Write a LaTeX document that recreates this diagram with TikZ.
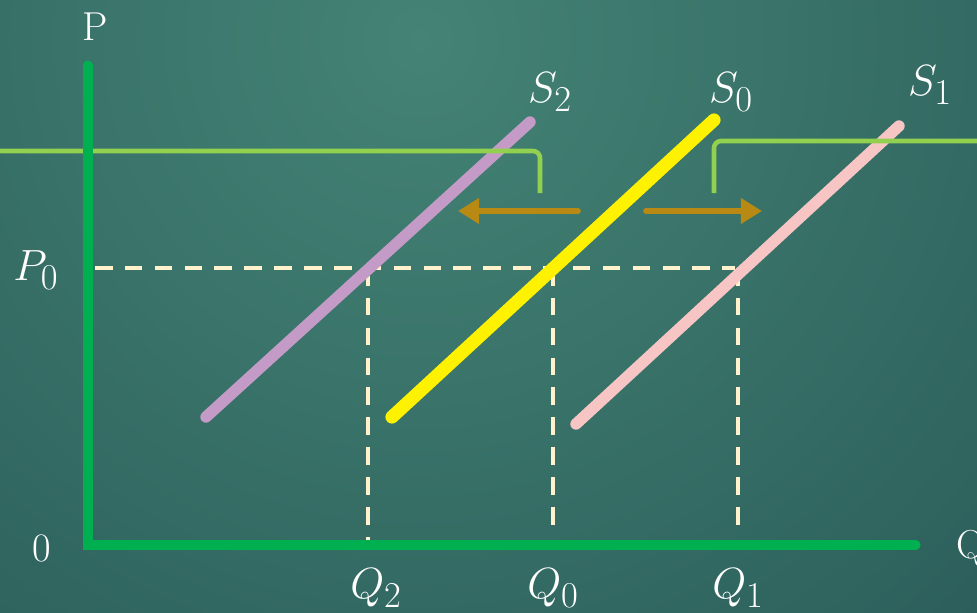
\documentclass[tikz,border=0pt]{standalone}
\usepackage{xcolor}
\usepackage{tikz}
\usetikzlibrary{arrows.meta, positioning, calc}
\definecolor{boardlight}{RGB}{68, 131, 117}
\definecolor{boarddark}{RGB}{38, 86, 85}
\definecolor{axisgreen}{RGB}{0, 176, 80}
\definecolor{limegreen}{RGB}{146, 208, 80}
\definecolor{curvelilac}{RGB}{196, 155, 198}
\definecolor{curvepink}{RGB}{248, 197, 197}
\definecolor{shiftbrown}{RGB}{184, 138, 20}
\definecolor{guidecream}{RGB}{255, 242, 204}

\tikzset{
  axisline/.style={draw=axisgreen, line width=5.2pt, line cap=round},
  supplyline/.style={line width=6.5pt, line cap=round},
  bracketline/.style={draw=limegreen, line width=2.6pt, rounded corners=4pt},
  shiftarrow/.style={draw=shiftbrown, line width=3.2pt, line cap=round,
                     -{Triangle[length=12pt, width=14pt]}},
  guideline/.style={draw=guidecream, line width=1.8pt, dash pattern=on 10pt off 7pt},
  axislabel/.style={text=white, font=\fontsize{23}{26}\selectfont},
  curvelabel/.style={text=white, font=\fontsize{29}{34}\selectfont}
}

\begin{document}
\begin{tikzpicture}[x=0.02cm, y=-0.02cm]
            % board
            \useasboundingbox (0,0) rectangle (977,612);
            \begin{scope}
              \clip (0,0) rectangle (977,612);
              \shade[inner color=boardlight, outer color=boarddark] (420,40) circle (1000);
            \end{scope}

            % points
            \coordinate (origin) at (88,545);
            \coordinate (ptop) at (88,65);
            \coordinate (qend) at (916,545);
            \coordinate (s2low) at (206,417);
            \coordinate (s2high) at (530,122);
            \coordinate (s0low) at (392,417);
            \coordinate (s0high) at (714,120);
            \coordinate (s1low) at (576,424);
            \coordinate (s1high) at (899,126);
            \coordinate (pstart) at (95,268);
            \coordinate (pend) at (735,268);
            \coordinate (q2top) at (368,268);
            \coordinate (q2bot) at (368,545);
            \coordinate (q0top) at (553,268);
            \coordinate (q0bot) at (553,528);
            \coordinate (q1top) at (738,268);
            \coordinate (q1bot) at (738,528);
            \coordinate (leftin) at (0,151);
            \coordinate (leftend) at (540,193);
            \coordinate (rightend) at (714,193);
            \coordinate (rightout) at (977,141);
            \coordinate (larrowfrom) at (578,211);
            \coordinate (larrowto) at (458,211);
            \coordinate (rarrowfrom) at (646,211);
            \coordinate (rarrowto) at (762,211);

            % dashed guides
            \draw[guideline] (pstart) -- (pend);
            \draw[guideline] (q2top) -- (q2bot);
            \draw[guideline] (q0top) -- (q0bot);
            \draw[guideline] (q1top) -- (q1bot);

            % supply curves
            \draw[supplyline, draw=curvelilac] (s2low) -- (s2high);
            \draw[supplyline, draw=curvepink] (s1low) -- (s1high);
            \draw[supplyline, draw=yellow, line width=7.5pt] (s0low) -- (s0high);

            % brackets and shift arrows
            \draw[bracketline] (leftin) -- (leftend |- leftin) -- (leftend);
            \draw[bracketline] (rightend) -- (rightend |- rightout) -- (rightout);
            \draw[shiftarrow] (larrowfrom) -- (larrowto);
            \draw[shiftarrow] (rarrowfrom) -- (rarrowto);

            % axes
            \draw[axisline] (ptop) -- (origin) -- (qend);

            % labels
            \node[axislabel] (plabel) at (95,27) {P};
            \node[axislabel] (zerolabel) at (42,548) {0};
            \node[axislabel, anchor=west] (qlabel) at (950,548) {Q};
            \node[curvelabel] (p0label) at (36,270) {$P_0$};
            \node[curvelabel] (s2label) at (550,92) {$S_2$};
            \node[curvelabel] (s0label) at (731,92) {$S_0$};
            \node[curvelabel] (s1label) at (930,85) {$S_1$};
            \node[curvelabel] (q2label) at (376,588) {$Q_2$};
            \node[curvelabel] (q0label) at (553,588) {$Q_0$};
            \node[curvelabel] (q1label) at (738,588) {$Q_1$};
        \end{tikzpicture}
\end{document}
